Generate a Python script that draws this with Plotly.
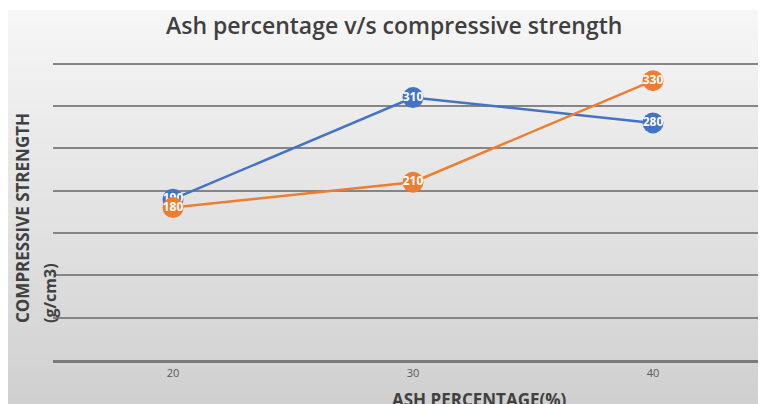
import plotly.graph_objects as go

categories = ["20", "30", "40"]
series1_values = [190, 310, 280]
series2_values = [180, 210, 330]
series1_name = "Series 1"
series2_name = "Series 2"

# the page body adds an 8px offset; figure drawn from screen (8, 8)
OFF = 8
W, H = 766 - OFF, 404 - OFF
L, R, T, B = 53 - OFF, 0, 62 - OFF, 404 - 360
pw, ph = W - L - R, H - T - B

def px_x(sx):
    return (sx - OFF - L) / pw

def px_y(sy):
    return (H - B - (sy - OFF)) / ph

fig = go.Figure()

for vals, col, name in [(series1_values, "#4472C4", series1_name),
                        (series2_values, "#ED7D31", series2_name)]:
    fig.add_trace(go.Scatter(
        x=categories, y=vals, name=name,
        mode="lines+markers+text",
        line=dict(color=col, width=2.5),
        marker=dict(color=col, size=21),
        text=[str(v) for v in vals], textposition="middle center",
        textfont=dict(color="white", size=12, family="Open Sans", weight=700),
        cliponaxis=False,
    ))

# background gradient (decorative bands)
shapes = []
n = 40
y_top, y_bot = 10, 404
c_top = (246, 246, 246)
c_bot = (208, 208, 208)
for i in range(n):
    a = y_top + (y_bot - y_top) * i / n
    b = y_top + (y_bot - y_top) * (i + 1) / n
    t = (i + 0.5) / n
    c = tuple(int(round(c_top[k] + (c_bot[k] - c_top[k]) * t)) for k in range(3))
    shapes.append(dict(
        type="rect", xref="paper", yref="paper",
        x0=px_x(8), x1=px_x(770), y0=px_y(b + 1), y1=px_y(a),
        fillcolor="rgb(%d,%d,%d)" % c, line=dict(width=0), layer="below",
    ))

fig.update_layout(
    width=W, height=H,
    margin=dict(l=L, r=R, t=T, b=B),
    paper_bgcolor="white",
    plot_bgcolor="rgba(0,0,0,0)",
    showlegend=False,
    shapes=shapes,
    font=dict(family="Open Sans", color="#404040"),
    xaxis=dict(
        type="category", range=[-0.5, (W - L) / 240 - 0.5],
        showgrid=False, zeroline=False,
        showline=True, linecolor="#7a7a7a", linewidth=3,
        ticks="", tickfont=dict(size=11, color="#595959"),
        ticklabelstandoff=1,
    ),
    yaxis=dict(
        range=[0, 352], tickvals=[50, 100, 150, 200, 250, 300, 350],
        showgrid=True, gridcolor="#858585", gridwidth=1.6,
        zeroline=False, showticklabels=False, ticks="",
        showline=False,
    ),
    annotations=[
        dict(text="Ash percentage v/s compressive strength",
             xref="paper", yref="paper",
             x=px_x(394), y=px_y(25),
             xanchor="center", yanchor="middle", showarrow=False,
             font=dict(size=23, family="Open Sans", weight=600, color="#404040")),
        dict(text="COMPRESSIVE STRENGTH",
             xref="paper", yref="paper",
             x=px_x(22), y=px_y(325),
             xanchor="center", yanchor="bottom", textangle=-90,
             showarrow=False,
             font=dict(size=17, family="Open Sans", weight=700, color="#404040")),
        dict(text="(g/cm3)",
             xref="paper", yref="paper",
             x=px_x(50), y=px_y(325),
             xanchor="center", yanchor="bottom", textangle=-90,
             showarrow=False,
             font=dict(size=16, family="Open Sans", weight=700, color="#404040")),
        dict(text="ASH PERCENTAGE(%)",
             xref="paper", yref="paper",
             x=px_x(480), y=px_y(386),
             xanchor="center", yanchor="top", showarrow=False,
             font=dict(size=17, family="Open Sans", weight=700, color="#404040")),
    ],
)

fig.write_html("out.html")
